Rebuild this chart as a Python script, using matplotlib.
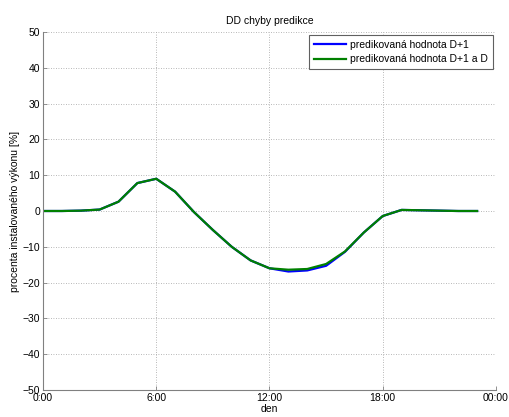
import matplotlib.pyplot as plt

plt.rcParams['font.family'] = ['Liberation Sans', 'DejaVu Sans']

# hodinove hodnoty chyby predikce (procenta instalovaneho vykonu)
hours = list(range(24))
pred_d1 = [0.0, 0.0, 0.1, 0.4, 2.6, 7.8, 9.0, 5.4, -0.3, -5.3, -10.0, -13.8,
           -16.0, -16.9, -16.6, -15.3, -11.4, -6.0, -1.4, 0.3, 0.2, 0.1, 0.0, 0.0]
pred_d1_d = [0.0, 0.0, 0.1, 0.4, 2.6, 7.8, 9.0, 5.4, -0.3, -5.3, -10.0, -13.8,
             -16.0, -16.4, -16.2, -14.8, -11.3, -6.0, -1.4, 0.3, 0.2, 0.1, 0.0, 0.0]

xticks = [0, 6, 12, 18, 24]
xticklabels = ['0:00', '6:00', '12:00', '18:00', '00:00']
yticks = list(range(-50, 51, 10))

fig = plt.figure(figsize=(5.1, 4.17), dpi=100)
ax = fig.add_axes([0.0843, 0.0647, 0.8882, 0.8586])

ax.plot(hours, pred_d1, color='#0000ff', lw=1.6, label='predikovaná hodnota D+1')
ax.plot(hours, pred_d1_d, color='#008000', lw=1.6, label='predikovaná hodnota D+1 a D')

ax.set_xlim(0, 24)
ax.set_ylim(-50, 50)
ax.set_xticks(xticks)
ax.set_xticklabels(xticklabels)
ax.set_yticks(yticks)

ax.grid(True, linestyle=(0, (1, 2)), color='#a0a0a0', lw=0.6)
for side in ('top', 'right'):
    ax.spines[side].set_visible(False)
for side in ('left', 'bottom'):
    ax.spines[side].set_color('#808080')
    ax.spines[side].set_linewidth(0.8)
ax.tick_params(direction='in', length=3, width=0.6, color='#808080',
               labelsize=7.5, labelcolor='black', pad=2)

ax.set_title('DD chyby predikce', fontsize=7.5, pad=6)
ax.set_xlabel('den', fontsize=7.5, labelpad=1)
ax.set_ylabel('procenta instalovaného výkonu [%]', fontsize=7.5, labelpad=2)

leg = ax.legend(loc='upper right', fontsize=7.5, fancybox=False,
                framealpha=1, borderaxespad=0.3, handlelength=3.1,
                borderpad=0.45, labelspacing=0.45, handletextpad=0.4)
leg.get_frame().set_edgecolor('#606060')
leg.get_frame().set_linewidth(0.8)

fig.savefig('out.png', dpi=100)
